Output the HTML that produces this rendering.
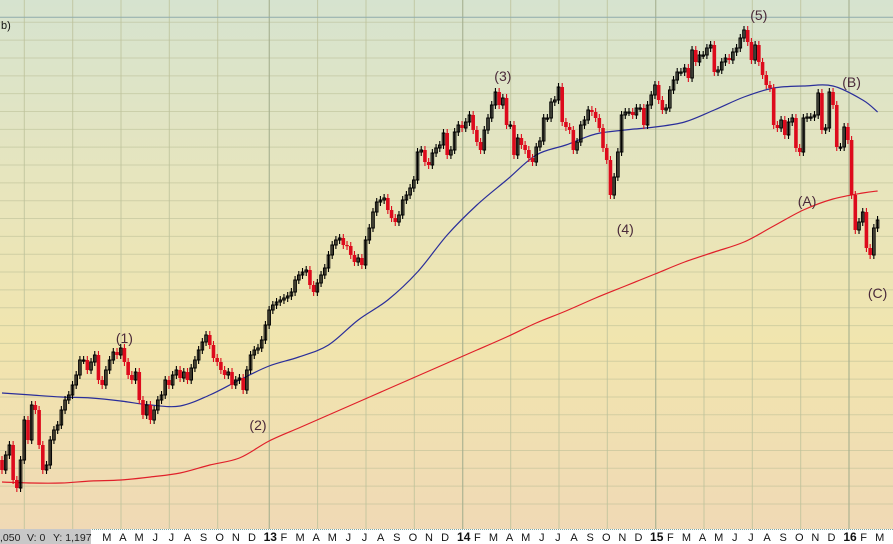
<!DOCTYPE html>
<html>
<head>
<meta charset="utf-8">
<style>
  html,body{margin:0;padding:0;width:893px;height:544px;overflow:hidden;background:#f0dcb4;}
  svg{display:block;}
  text{font-family:"Liberation Sans",sans-serif;}
</style>
</head>
<body>
<svg id="chart" width="893" height="544" viewBox="0 0 893 544" xmlns="http://www.w3.org/2000/svg">
  <defs>
    <linearGradient id="bg" x1="0" y1="0" x2="0" y2="1">
      <stop offset="0" stop-color="#d6e3cf"/>
      <stop offset="0.35" stop-color="#e7e5bd"/>
      <stop offset="0.65" stop-color="#f1e5ae"/>
      <stop offset="1" stop-color="#f0d9b5"/>
    </linearGradient>
  </defs>
  <rect x="0" y="0" width="893" height="529" fill="url(#bg)"/>
  <g id="grid"></g>
  <line x1="0" y1="17.3" x2="893" y2="17.3" stroke="#8fabab" stroke-width="1"/>
  <text x="1" y="29" font-size="11" fill="#111" font-family="DejaVu Sans Mono, monospace">b)</text>
  <g id="ma"></g>
  <g id="candles"></g>
  <g id="waves"></g>
  <g id="axis">
    <rect x="0" y="529" width="893" height="15" fill="#ffffff"/>
    <line x1="90" y1="529.5" x2="893" y2="529.5" stroke="#7aa8a8" stroke-width="1" stroke-dasharray="1,1"/>
    <rect x="0" y="529" width="91" height="15" fill="#c8c8c8"/>
    <text x="0" y="541" font-size="10.5" fill="#222">,050</text>
    <text x="27" y="541" font-size="10.5" fill="#222">V: 0</text>
    <text x="53" y="541" font-size="10.5" fill="#222">Y: 1,197</text>
  </g>
</svg>
<script>
// ---- data ----
const closes = [74,89,99,64,56,84,124,104,139,134,99,74,79,104,114,119,134,144,149,159,169,184,184,174,182,189,164,159,174,184,192,189,196,182,169,164,172,144,129,139,124,134,144,149,164,159,169,174,166,172,164,176,184,194,202,209,199,186,182,174,169,172,159,164,166,154,174,189,194,196,204,219,234,239,242,244,246,248,252,264,269,272,274,259,252,261,269,276,289,299,304,306,299,298,289,282,286,279,304,316,332,342,344,346,334,326,322,329,344,349,
356,364,392,394,382,379,391,396,399,411,389,394,412,419,416,422,429,414,402,394,414,426,439,452,439,446,419,419,389,406,399,394,386,382,397,403,426,426,442,444,457,422,417,414,394,402,419,424,434,432,426,416,396,384,349,367,392,429,
432,432,429,436,436,419,439,449,459,444,434,436,454,464,472,472,476,466,494,482,489,489,496,499,472,474,482,486,484,492,496,506,514,502,484,499,482,469,459,456,419,416,424,409,422,426,396,392,426,427,427,429,451,414,416,452,439,397,397,417,404,349,314,322,332,296,289,316,324];
const maWeeks = [0,8,16,24,32,40,48,56,64,72,80,88,96,104,112,120,128,136,144,152,160,168,176,184,192,200,208,216,224,232,236];
const maFast = [151,149,147,146,143,139,138,149,164,178,187,199,224,244,272,309,339,364,389,399,410,414,417,422,434,447,456,458,458,444,432];
const maSlow = [62,61,61,63,64,67,71,79,86,103,116,129,142,155,168,181,194,207,221,233,246,258,270,282,292,302,318,334,345,351,353];
const waveLabels = ["(1)","(2)","(3)","(4)","(5)","(A)","(B)","(C)"];
const waveWeeks = [33,69,135,168,204,217,229,236];
const waveLevels = [201,114,463,310,524,338,457,246];
const yearLabels = ["13","14","15","16"];
const monthLabels = ["J","F","M","A","M","J","J","A","S","O","N","D"];

// ---- scales ----
const wickExt = 4;
function X(i){ return 2 + i*3.71; }
function Y(p){ return 544 - p; }

const NS = "http://www.w3.org/2000/svg";
function mk(tag, attrs, parent){
  const e = document.createElementNS(NS, tag);
  for (const k in attrs) e.setAttribute(k, attrs[k]);
  parent.appendChild(e);
  return e;
}

// ---- grid ----
const grid = document.getElementById('grid');
for (let k = 0; k < 28; k++){
  const y = 22.3 + k*17.84;
  const l = mk('line', {x1:0, x2:893, y1:y, y2:y, stroke:'#b9bd95', 'stroke-width':1, 'stroke-opacity':0.55}, grid);
  
  
}
const vlines = [24.3,72.7,121,169.3,217.7,269.3,317.6,366,414.3,462.7,510.7,559,607.3,655.7,704,752.3,800.7,849];
const yearX = [269.3,462.7,655.7,849];
vlines.forEach(x=>{
  const isYear = yearX.indexOf(x) >= 0;
  const l = mk('line', {x1:x, x2:x, y1:0, y2:529, stroke: isYear ? '#a3ad8c' : '#bcc09a', 'stroke-width': isYear ? 1.3 : 1, 'stroke-opacity': 0.8}, grid);
  
  
});

// ---- moving averages (smoothed through points) ----
const ma = document.getElementById('ma');
function maPath(vals){
  const pts = vals.map((v,i)=>[X(maWeeks[i]), Y(v)]);
  let d = 'M' + pts[0][0].toFixed(1) + ',' + pts[0][1].toFixed(1);
  for (let i = 0; i < pts.length - 1; i++){
    const p0 = pts[Math.max(i-1,0)], p1 = pts[i], p2 = pts[i+1], p3 = pts[Math.min(i+2, pts.length-1)];
    const c1x = p1[0] + (p2[0]-p0[0])/6, c1y = p1[1] + (p2[1]-p0[1])/6;
    const c2x = p2[0] - (p3[0]-p1[0])/6, c2y = p2[1] - (p3[1]-p1[1])/6;
    d += ' C' + c1x.toFixed(1)+','+c1y.toFixed(1)+' '+c2x.toFixed(1)+','+c2y.toFixed(1)+' '+p2[0].toFixed(1)+','+p2[1].toFixed(1);
  }
  return d;
}
const slow = mk('path', {d:maPath(maSlow), fill:'none', stroke:'#e0202a', 'stroke-width':1.2}, ma);


const fast = mk('path', {d:maPath(maFast), fill:'none', stroke:'#2a2e9a', 'stroke-width':1.2}, ma);



// ---- candles ----
const cg = document.getElementById('candles');
closes.forEach((c,i)=>{
  const o = i === 0 ? c + 10 : closes[i-1];
  const up = c >= o;
  const hi = Math.max(o,c) + wickExt;
  const lo = Math.min(o,c) - wickExt;
  const x = X(i);
  const col = up ? '#000' : '#dd0a1c';
  const g = mk('g', {}, cg);
  
  
  mk('line', {x1:x, x2:x, y1:Y(hi), y2:Y(lo), stroke:col, 'stroke-width':1.1}, g);
  const top = Y(Math.max(o,c)), bot = Y(Math.min(o,c));
  const h = Math.max(bot - top, 1.2);
  if (up){
    mk('rect', {x:x-1.3, y:top, width:2.6, height:h, fill:'none', stroke:'#000', 'stroke-width':1}, g);
  } else {
    mk('rect', {x:x-1.8, y:top, width:3.6, height:h, fill:'#dd0a1c'}, g);
  }
});

// ---- wave labels ----
const wg = document.getElementById('waves');
waveLabels.forEach((t,i)=>{
  const e = mk('text', {x:X(waveWeeks[i]), y:Y(waveLevels[i]), 'font-size':14, fill:'#4a2a3a', 'text-anchor':'middle'}, wg);
  e.textContent = t;
  
  
});

// ---- x axis labels ----
const ax = document.getElementById('axis');
const yearsAll = [{x:76.1, label:null}].concat(yearX.map((x,i)=>({x:x, label:yearLabels[i]})));
yearsAll.forEach(yr=>{
  for (let m = 0; m < 12; m++){
    const cx = yr.x + 16.12*m + (m ? -1.5 : 1);
    if (cx < 96 || cx > 890) continue;
    const isYear = m === 0 && yr.label;
    const e = mk('text', {x:cx, y:541, 'font-size': isYear ? 12 : 11, 'font-weight': isYear ? 'bold' : 'normal', fill:'#111', 'text-anchor':'middle'}, ax);
    e.textContent = isYear ? yr.label : monthLabels[m];
    
    
  }
});
</script>
</body>
</html>
